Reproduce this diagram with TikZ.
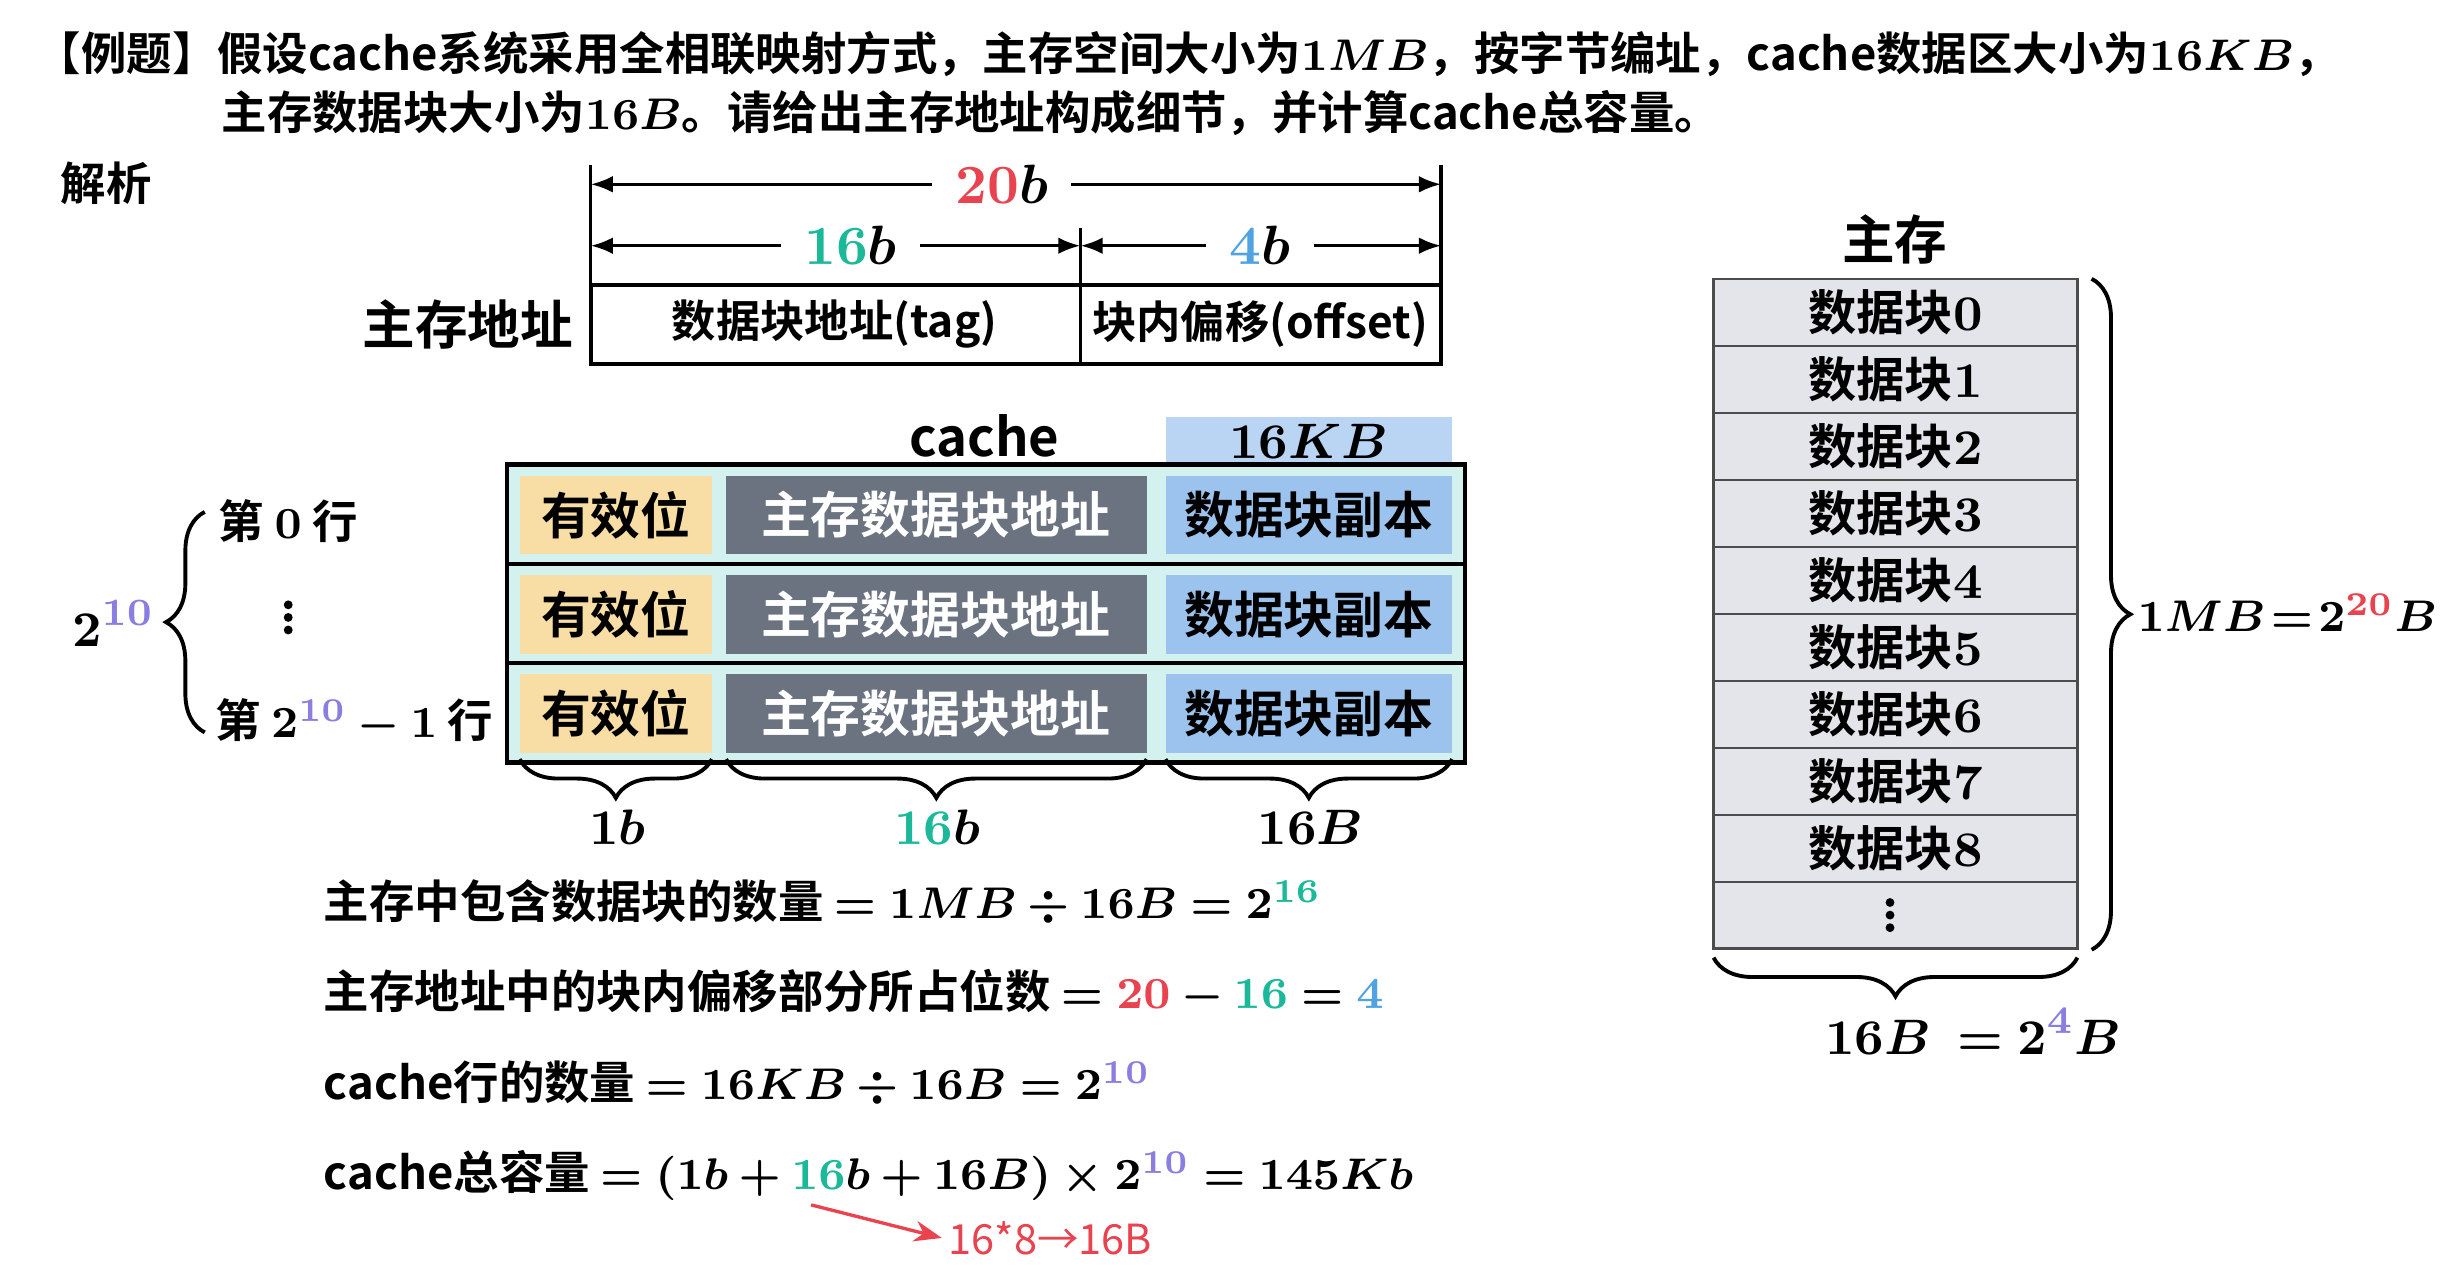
\documentclass[tikz,border=0pt]{standalone}
\usepackage{amsmath,bm}
\usepackage{fontspec}
\setmainfont{Noto Sans CJK SC}[BoldFont={Noto Sans CJK SC Bold}]
\usetikzlibrary{decorations.pathreplacing,arrows.meta}
\definecolor{cr}{HTML}{E8434F}
\definecolor{cg}{HTML}{1BB89A}
\definecolor{cb}{HTML}{4FA3E0}
\definecolor{cp}{HTML}{8A7FE0}
\definecolor{cyanbg}{HTML}{D3F1EE}
\definecolor{yel}{HTML}{F8DDA4}
\definecolor{gry}{HTML}{6B7280}
\definecolor{lbl}{HTML}{9CC3EE}
\definecolor{mem}{HTML}{E3E5EA}
\newcommand\mb[1]{\bm{#1}}
\begin{document}
\begin{tikzpicture}[x=0.01cm,y=-0.01cm,font=\bfseries\fontsize{8.2}{10}\selectfont,
  txt/.style={inner sep=0pt,anchor=base west},
  dim/.style={-{Latex[length=4pt]},line width=0.6pt},
  br/.style={decorate,decoration={brace,amplitude=7pt},line width=0.7pt},
  cell/.style={draw=none,inner sep=0pt,font=\bfseries\fontsize{9}{10}\selectfont},
  vdot/.style={fill=black,circle,inner sep=0pt,minimum size=1.6pt},
  memcell/.style={draw=black!70,fill=mem,minimum width=2.31cm,minimum height=0.425cm,inner sep=0pt,font=\bfseries\fontsize{8.7}{10}\selectfont}]
\useasboundingbox (0,0) rectangle (1560,811);
% title
\node[txt] (t1) at (22,45) {【例题】假设cache系统采用全相联映射方式，主存空间大小为$\mb{1MB}$，按字节编址，cache数据区大小为$\mb{16KB}$，};
\node[txt] (t2) at (140,82) {主存数据块大小为$\mb{16B}$。请给出主存地址构成细节，并计算cache总容量。};
\node[txt] (jx) at (38,127) {解析};
% address table
\draw[line width=0.7pt] (375,181) rectangle (915,231);
\draw[line width=0.7pt] (686,181) -- (686,231);
\node[font=\bfseries\fontsize{8}{10}\selectfont] (tag) at (530,206) {数据块地址(tag)};
\node[font=\bfseries\fontsize{8}{10}\selectfont] (off) at (800,206) {块内偏移(offset)};
\node (addr) at (297,206) {\fontsize{9.5}{10}\selectfont 主存地址};
\draw[line width=0.6pt] (375,105)--(375,181) (915,105)--(915,181) (686,145)--(686,181);
\node[inner sep=4pt] (l20) at (636,117) {\fontsize{10}{10}\selectfont$\mb{{\color{cr}20}b}$};
\coordinate (a1) at (375,117); \coordinate (a2) at (915,117);
\draw[dim] (l20.west) -- (a1); \draw[dim] (l20.east) -- (a2);
\node[inner sep=4pt] (l16) at (540,156) {\fontsize{10}{10}\selectfont$\mb{{\color{cg}16}b}$};
\coordinate (a3) at (375,156); \coordinate (a4) at (686,156);
\draw[dim] (l16.west) -- (a3); \draw[dim] (l16.east) -- (a4);
\node[inner sep=4pt] (l4) at (800,156) {\fontsize{10}{10}\selectfont$\mb{{\color{cb}4}b}$};
\coordinate (a5) at (915,156);
\draw[dim] (l4.west) -- (a4); \draw[dim] (l4.east) -- (a5);
% cache
\node (cachel) at (625,277) {\fontsize{9.5}{10}\selectfont cache};
\fill[lbl!70] (740,265) rectangle (922,295);
\node (kb) at (831,280) {\fontsize{9.5}{10}\selectfont$\mb{16KB}$};
\draw[line width=0.8pt,fill=cyanbg] (322,295) rectangle (930,484);
\draw[line width=0.6pt] (322,358)--(930,358) (322,421)--(930,421);
\foreach \r/\y in {0/295,1/358,2/421}{
  \fill[yel] (330,\y+7) rectangle (452,\y+57);
  \fill[gry] (461,\y+7) rectangle (728,\y+57);
  \fill[lbl] (740,\y+7) rectangle (922,\y+57);
  \node[cell] (v\r) at (391,\y+32) {有效位};
  \node[cell,text=white] (g\r) at (594,\y+32) {主存数据块地址};
  \node[cell] (d\r) at (831,\y+32) {数据块副本};
}
\draw[br] (452,482) -- (330,482);
\draw[br] (728,482) -- (461,482);
\draw[br] (922,482) -- (740,482);
\node (b1) at (392,525) {\fontsize{9.5}{10}\selectfont$\mb{1b}$};
\node (b2) at (595,525) {\fontsize{9.5}{10}\selectfont$\mb{{\color{cg}16}b}$};
\node (b3) at (832,525) {\fontsize{9.5}{10}\selectfont$\mb{16B}$};
% rows left
\node (r0) at (183,331) {第 $\mb{0}$ 行};
\foreach \d in {-8,0,8} \node[vdot] at (183,392+\d) {};
\node (rn) at (225,458) {第 $\mb{2^{\color{cp}10}-1}$ 行};
\draw[br] (130,465) -- (130,325);
\node (p10) at (72,396) {\fontsize{9.5}{10}\selectfont$\mb{2^{\color{cp}10}}$};
% equations
\node[txt] (e1) at (205,583) {主存中包含数据块的数量 $\mb{=1MB\div16B=2^{\color{cg}16}}$};
\node[txt] (e2) at (205,640) {主存地址中的块内偏移部分所占位数 $\mb{={\color{cr}20}-{\color{cg}16}={\color{cb}4}}$};
\node[txt] (e3) at (205,698) {cache行的数量 $\mb{=16KB\div16B=2^{\color{cp}10}}$};
\node[txt] (e4) at (205,755) {cache总容量 $\mb{=(1b+{\color{cg}16}b+16B)\times2^{\color{cp}10}=145Kb}$};
\coordinate (as) at (515,765);
\node[text=cr,font=\fontsize{7.5}{10}\selectfont,anchor=west,inner sep=1pt] (note) at (598,786) {16*8→16B};
\draw[cr,-{Stealth[length=5pt]},line width=0.6pt] (as) -- (note.west);
% main memory
\node (zc) at (1203,152) {\fontsize{9.5}{10}\selectfont 主存};
\foreach \i in {0,...,8}{
  \node[memcell] (m\i) at (1203.5,198.5+42.5*\i) {数据块$\mb{\i}$};
}
\node[memcell] (m9) at (1203.5,581) {};
\foreach \d in {-8,0,8} \node[vdot] at (1200,581+\d) {};
\draw[br] (1328,177) -- (1328,603);
\node[anchor=east,inner sep=0pt] (mb) at (1548,389) {\fontsize{8}{10}\selectfont$\mb{1MB\!=\!2^{\color{cr}20}B}$};
\draw[br] (1319,608) -- (1088,608);
\node (bs) at (1253,655) {\fontsize{9.5}{10}\selectfont$\mb{16B\ =2^{\color{cp}4}B}$};
\end{tikzpicture}
\end{document}
